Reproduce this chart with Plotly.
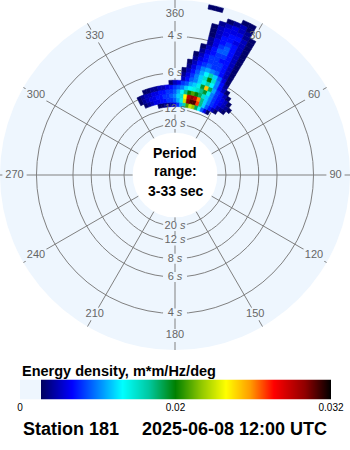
import numpy as np
import plotly.graph_objects as go

# ---------------- data ----------------
DIR_STEP = 2.5                      # direction bin width (deg, clockwise from north)
FREQ_WIDTH = 0.01                   # frequency bin width (Hz)
FREQ_CENTERS = [0.095, 0.105, 0.115, 0.125, 0.135, 0.145, 0.155, 0.165,
                0.175, 0.185, 0.195, 0.205, 0.215, 0.225, 0.235, 0.245,
                0.255, 0.265, 0.275, 0.285, 0.295, 0.305, 0.315, 0.325]
# direction of the first non-empty bin of every frequency row
ROW_FIRST_DIR = [-12.5, -22.5, -25, -25, -20, -2.5, 5, 5,
                 5, 7.5, 7.5, 10, 10, 12.5, 12.5, 15,
                 15, 15, 15, 15, 17.5, 20, 25, 12.5]
# energy density of consecutive 2.5-deg bins, units of 0.001 m*m/Hz/deg
ROW_ENERGY_MILLI = [
    [3, 3, 4, 4, 5, 6, 8, 11, 16, 21, 23, 22, 18, 13, 9, 6, 3],                           # 0.095
    [3, 4, 5, 6, 6, 7, 7, 8, 8, 9, 11, 14, 23, 30, 31, 31, 27, 17, 12, 9, 7, 5, 3],        # 0.105
    [3, 4, 5, 6, 6, 7, 7, 8, 8, 9, 10, 12, 15, 24, 29, 30, 29, 26, 17, 12, 10, 8, 7, 5, 4, 3],  # 0.115
    [3, 4, 5, 5, 6, 6, 7, 7, 8, 8, 9, 11, 13, 17, 20, 21, 20, 18, 15, 12, 10, 8, 7, 6, 5, 4, 3],  # 0.125
    [3, 3, 4, 4, 5, 5, 6, 7, 8, 9, 10, 12, 13, 14, 15, 17, 19, 14, 10, 8, 7, 6, 5, 3],     # 0.135
    [3, 5, 6, 8, 9, 11, 12, 14, 19, 25, 18, 11, 8, 7, 5, 3],                              # 0.145
    [5, 7, 9, 10, 12, 14, 16, 13, 10, 7, 5, 3],                                           # 0.155
    [4, 6, 8, 10, 12, 15, 20, 15, 10, 7, 4],                                              # 0.165
    [3, 5, 7, 9, 11, 13, 16, 12, 9, 6, 3],                                                # 0.175
    [4, 6, 8, 10, 11, 10, 9, 7, 5, 3],                                                    # 0.185
    [3, 5, 7, 8, 9, 8, 8, 7, 5, 3],                                                       # 0.195
    [4, 6, 7, 8, 8, 8, 7, 5, 3],                                                          # 0.205
    [3, 5, 7, 8, 8, 7, 7, 5, 3],                                                          # 0.215
    [4, 6, 7, 8, 8, 7, 5, 3],                                                             # 0.225
    [3, 5, 7, 9, 9, 7, 5, 3],                                                             # 0.235
    [4, 6, 8, 9, 7, 5, 3],                                                                # 0.245
    [4, 6, 7, 8, 7, 5, 3],                                                                # 0.255
    [3, 5, 7, 7, 6, 5, 3],                                                                # 0.265
    [3, 5, 6, 7, 7, 5, 3],                                                                # 0.275
    [3, 5, 6, 6, 6, 4, 3],                                                                # 0.285
    [4, 5, 6, 5, 4],                                                                      # 0.295
    [3, 4, 5, 3],                                                                         # 0.305
    [3, 3],                                                                               # 0.315
    [3, 3],                                                                               # 0.325
]
ENERGY_UNIT = 0.001

PERIOD_MIN, PERIOD_MAX = 3, 33
RING_PERIODS = [4, 6, 8, 12, 20]
RING_PERIODS_TOP = [4, 6, 12, 20]        # 8 s label on top is hidden by the spectrum
ANGLE_TICKS = [0, 30, 60, 90, 120, 150, 180, 210, 240, 270, 300, 330]
ANGLE_LABELS = ['360', '30', '60', '90', '120', '150', '180', '210', '240', '270', '300', '330']
CBAR_TICK_VALUES = [0, 0.02, 0.032]
CBAR_TICK_TEXT = ['0', '0.02', '0.032']
CBAR_TICK_POS = [0, 0.5, 1]              # position along the bar
VMAX = 0.032
BG_LOW = 0.0027                          # below this: background colour

# ---------------- styling ----------------
BG = '#eef6fe'
GRID = '#808080'
LABEL_GRAY = '#666666'
FONT = 'Liberation Sans, Arial, sans-serif'
W, H = 350, 450
R_PX = 175.0
HOLE = 0.242
F_MIN, F_MAX = 1.0 / PERIOD_MAX, 1.0 / PERIOD_MIN
PX_PER_HZ = R_PX * (1 - HOLE) / (F_MAX - F_MIN)
F_LABEL = F_MIN + (160.5 - R_PX * HOLE) / PX_PER_HZ

color_anchors = [
    (0.0, BG), (BG_LOW, BG), (BG_LOW, '#00005e'), (0.0067, '#0000ff'),
    (0.0100, '#0080ff'), (0.0132, '#00ffff'), (0.0166, '#00c8a0'),
    (0.0200, '#008000'), (0.0220, '#90c800'), (0.0239, '#ffff00'),
    (0.0258, '#ff9a00'), (0.0276, '#ff0000'), (0.0300, '#900000'),
    (VMAX, '#000000'),
]
colorscale = [[v / VMAX, c] for v, c in color_anchors]

fig = go.Figure()

# ---- masks behind labels (break grid lines) ----
m_r, m_base, m_theta, m_width = [], [], [], []
for a, t in zip(ANGLE_TICKS, ANGLE_LABELS):
    w = 6.1 * len(t) + 4
    h = 11
    s, c = abs(np.sin(np.radians(a))), abs(np.cos(np.radians(a)))
    cand = []
    if s > 1e-6:
        cand.append((w / 2) / s)
    if c > 1e-6:
        cand.append((h / 2) / c)
    half = min(cand) + 1
    m_r.append(2 * half / PX_PER_HZ)
    m_base.append(F_LABEL - half / PX_PER_HZ)
    m_theta.append(a)
    m_width.append(3)
for side, periods in ((0, RING_PERIODS_TOP), (180, RING_PERIODS)):
    for p in periods:
        f = 1.0 / p
        r_px = R_PX * HOLE + (f - F_MIN) * PX_PER_HZ
        half = 5
        m_r.append(2 * half / PX_PER_HZ)
        m_base.append(f - half / PX_PER_HZ)
        m_theta.append(side)
        m_width.append(np.degrees(24.0 / r_px))
fig.add_trace(go.Barpolar(r=m_r, base=m_base, theta=m_theta, width=m_width,
                          marker=dict(color=BG, line=dict(width=0)),
                          hoverinfo='skip', showlegend=False))

# ---- spectrum ----
e_r, e_base, e_theta, e_val = [], [], [], []
for fc, d0, row in zip(FREQ_CENTERS, ROW_FIRST_DIR, ROW_ENERGY_MILLI):
    for k, e in enumerate(row):
        if e > 0:
            e_r.append(FREQ_WIDTH)
            e_base.append(fc - FREQ_WIDTH / 2)
            e_theta.append(d0 + k * DIR_STEP)
            e_val.append(e * ENERGY_UNIT)
fig.add_trace(go.Barpolar(
    r=e_r, base=e_base, theta=e_theta, width=[DIR_STEP] * len(e_r),
    marker=dict(color=e_val, colorscale=colorscale, cmin=0, cmax=VMAX,
                showscale=False,
                line=dict(width=0.6, color=e_val, colorscale=colorscale,
                          cmin=0, cmax=VMAX)),
    showlegend=False))

# ---- labels ----
fig.add_trace(go.Scatterpolar(
    r=[F_LABEL] * len(ANGLE_TICKS), theta=ANGLE_TICKS, text=ANGLE_LABELS,
    mode='text', textfont=dict(size=11, color=LABEL_GRAY, family=FONT),
    hoverinfo='skip', showlegend=False))
ring_r, ring_t, ring_txt = [], [], []
for side, periods in ((0, RING_PERIODS_TOP), (180, RING_PERIODS)):
    for p in periods:
        ring_r.append(1.0 / p)
        ring_t.append(side)
        ring_txt.append(f'{p} <i>s</i>')
fig.add_trace(go.Scatterpolar(
    r=ring_r, theta=ring_t, text=ring_txt, mode='text',
    textfont=dict(size=11, color=LABEL_GRAY, family=FONT),
    hoverinfo='skip', showlegend=False))

# ---- colour bar strip ----
N = 311
pos = (np.arange(N) + 0.5) / N
zbar = np.interp(pos, CBAR_TICK_POS, CBAR_TICK_VALUES)
fig.add_trace(go.Heatmap(x=pos, y=[0.5], z=[zbar], colorscale=colorscale,
                         zmin=0, zmax=VMAX, showscale=False,
                         xaxis='x', yaxis='y', hoverinfo='skip'))

fig.update_layout(
    width=W, height=H, margin=dict(l=0, r=0, t=0, b=0, pad=0, autoexpand=False),
    paper_bgcolor='white', plot_bgcolor='white',
    font=dict(family=FONT, color='black'),
    polar=dict(
        domain=dict(x=[0, 1], y=[1 - 350 / 450, 1]),
        bgcolor=BG, hole=HOLE,
        radialaxis=dict(range=[F_MIN, F_MAX], tickvals=[1.0 / p for p in RING_PERIODS],
                        showticklabels=False, ticks='', showline=False,
                        gridcolor=GRID, gridwidth=1),
        angularaxis=dict(rotation=90, direction='clockwise', tickvals=ANGLE_TICKS,
                         showticklabels=False, ticks='', showline=False,
                         gridcolor=GRID, gridwidth=1),
    ),
    xaxis=dict(domain=[20 / W, 331 / W], range=[0, 1], tickvals=CBAR_TICK_POS,
               ticktext=CBAR_TICK_TEXT, ticks='', showgrid=False, zeroline=False,
               showline=False, automargin=False,
               tickfont=dict(size=10, color='black', family=FONT),
               fixedrange=True),
    yaxis=dict(domain=[1 - 399.5 / H, 1 - 379.5 / H], range=[0, 1], visible=False,
               automargin=False, fixedrange=True),
    annotations=[
        dict(text='<b>Period</b>', x=0.5, y=1 - 153 / H, xref='paper', yref='paper',
             showarrow=False, xanchor='center', yanchor='middle',
             font=dict(size=14, color='black', family=FONT)),
        dict(text='<b>range:</b>', x=0.5, y=1 - 171 / H, xref='paper', yref='paper',
             showarrow=False, xanchor='center', yanchor='middle',
             font=dict(size=14, color='black', family=FONT)),
        dict(text='<b>3-33 sec</b>', x=0.5, y=1 - 190.5 / H, xref='paper', yref='paper',
             showarrow=False, xanchor='center', yanchor='middle',
             font=dict(size=14, color='black', family=FONT)),
        dict(text='<b>Energy density, m*m/Hz/deg</b>', x=20 / W, y=1 - 371 / H,
             xref='paper', yref='paper', showarrow=False, xanchor='left',
             yanchor='middle', font=dict(size=14.5, color='black', family=FONT)),
        dict(text='<b>Station 181</b>', x=21 / W, y=1 - 428.5 / H, xref='paper',
             yref='paper', showarrow=False, xanchor='left', yanchor='middle',
             font=dict(size=18, color='black', family=FONT)),
        dict(text='<b>2025-06-08 12:00 UTC</b>', x=329 / W, y=1 - 428.5 / H,
             xref='paper', yref='paper', showarrow=False, xanchor='right',
             yanchor='middle', font=dict(size=18, color='black', family=FONT)),
    ],
)

fig.write_html('out.html', config={'displayModeBar': False})
